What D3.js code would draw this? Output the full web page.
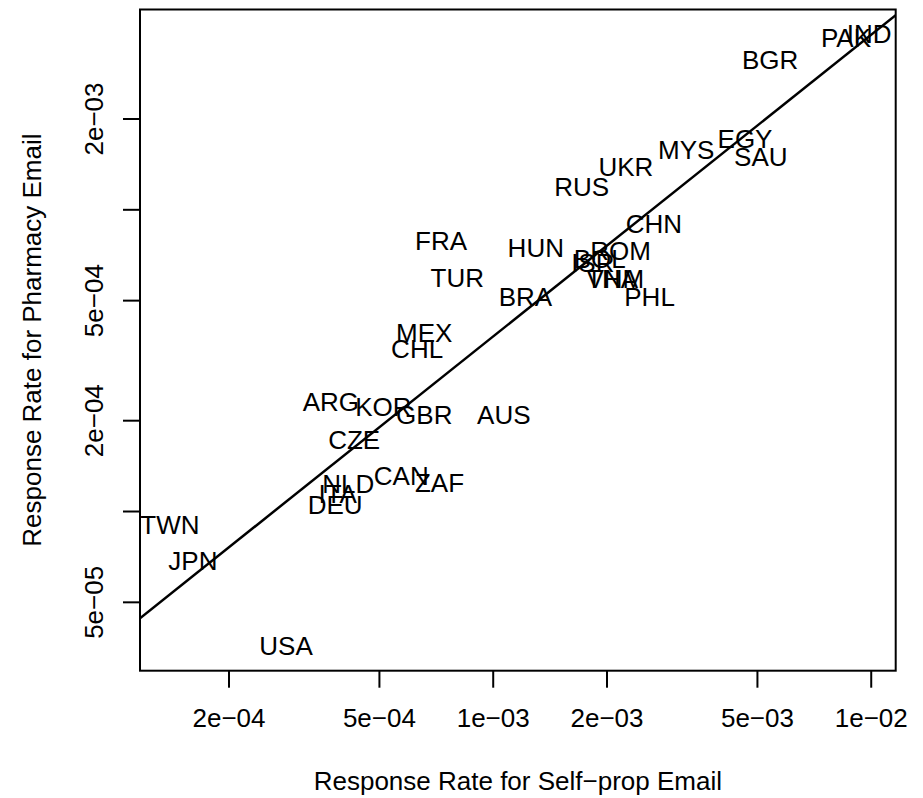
<!DOCTYPE html>
<html><head><meta charset="utf-8">
<script src="https://cdn.jsdelivr.net/npm/d3@7"></script>
<style>
body{margin:0;background:#fff}
text{font-family:"Liberation Sans",Arial,Helvetica,sans-serif;fill:#000}
</style>
</head><body>
<svg id="c" width="923" height="798"></svg>
<script>
// ---- data ----
const countries = ["USA","TWN","JPN","ARG","KOR","GBR","CZE","CAN","ZAF","NLD","ITA","DEU",
  "MEX","CHL","FRA","TUR","BRA","AUS","HUN","ISR","BOL","ROM","VNM","THA","PHL","CHN",
  "RUS","UKR","MYS","EGY","SAU","BGR","PAK","IND"];
const selfPropRate = [2.84e-4,1.40e-4,1.61e-4,3.73e-4,5.14e-4,6.59e-4,4.30e-4,5.73e-4,7.23e-4,4.15e-4,3.89e-4,3.83e-4,
  6.59e-4,6.31e-4,7.30e-4,8.06e-4,1.22e-3,1.07e-3,1.30e-3,1.84e-3,1.92e-3,2.18e-3,2.11e-3,2.07e-3,2.60e-3,2.67e-3,
  1.72e-3,2.25e-3,3.25e-3,4.65e-3,5.12e-3,5.42e-3,8.60e-3,9.91e-3];
const pharmacyRate = [3.57e-5,9.04e-5,6.84e-5,2.30e-4,2.22e-4,2.08e-4,1.72e-4,1.31e-4,1.24e-4,1.23e-4,1.14e-4,1.05e-4,
  3.91e-4,3.45e-4,7.86e-4,5.94e-4,5.15e-4,2.09e-4,7.49e-4,6.66e-4,6.88e-4,7.30e-4,5.90e-4,5.90e-4,5.13e-4,8.95e-4,
  1.19e-3,1.39e-3,1.58e-3,1.71e-3,1.50e-3,3.14e-3,3.71e-3,3.81e-3];
const xTicks = [2e-4,5e-4,1e-3,2e-3,5e-3,1e-2];
const xTickLabels = ["2e\u221204","5e\u221204","1e\u221203","2e\u221203","5e\u221203","1e\u221202"];
const yTicks = [5e-5,1e-4,2e-4,5e-4,1e-3,2e-3];
const yTickLabels = ["5e\u221205","","2e\u221204","5e\u221204","","2e\u221203"];
const fitIntercept = -0.4225;   // log10 scale fit line
const fitSlope = 1.0;
const xDomain = [1.1666e-4, 1.1643e-2];
const yDomain = [2.956e-5, 4.595e-3];
const xTitle = "Response Rate for Self\u2212prop Email";
const yTitle = "Response Rate for Pharmacy Email";

// ---- layout ----
const W = 923, H = 798;
const L = 140, R = 895.7, T = 9.5, B = 670.7;
const FS = 26;
const svg = d3.select("#c");

const x = d3.scaleLog().domain(xDomain).range([L, R]);
const y = d3.scaleLog().domain(yDomain).range([B, T]);

// clip
svg.append("defs").append("clipPath").attr("id","clip")
  .append("rect").attr("x",L).attr("y",T).attr("width",R-L).attr("height",B-T);

// labels
svg.append("g").selectAll("text").data(countries).join("text")
  .attr("x",(d,i)=>x(selfPropRate[i]))
  .attr("y",(d,i)=>y(pharmacyRate[i]))
  .attr("dy","0.36em")
  .attr("text-anchor","middle")
  .style("font-size",FS+"px")
  .text(d=>d);

// fit line
const lineData = xDomain.map(v => [v, Math.pow(10, fitIntercept + fitSlope*Math.log10(v))]);
svg.append("path")
  .attr("clip-path","url(#clip)")
  .attr("d", d3.line().x(d=>x(d[0])).y(d=>y(d[1]))(lineData))
  .attr("fill","none").attr("stroke","#000").attr("stroke-width",2.5);

// box
svg.append("rect").attr("x",L).attr("y",T).attr("width",R-L).attr("height",B-T)
  .attr("fill","none").attr("stroke","#000").attr("stroke-width",2);

// x axis
const gx = svg.append("g").attr("transform",`translate(0,${B})`)
  .call(d3.axisBottom(x).tickValues(xTicks).tickFormat((d,i)=>xTickLabels[i]).tickSizeOuter(0).tickSize(17));
gx.select(".domain").remove();
gx.selectAll(".tick line").attr("stroke","#000").attr("stroke-width",2);
gx.selectAll(".tick text").attr("y",56.6).attr("dy",0)
  .style("font-size",FS+"px").attr("font-family",null);

// y axis
const gy = svg.append("g").attr("transform",`translate(${L},0)`)
  .call(d3.axisLeft(y).tickValues(yTicks).tickFormat((d,i)=>yTickLabels[i]).tickSizeOuter(0).tickSize(17));
gy.select(".domain").remove();
gy.selectAll(".tick line").attr("stroke","#000").attr("stroke-width",2);
gy.selectAll(".tick text").attr("x",null).attr("dy",null)
  .attr("transform","translate(-37,0) rotate(-90)")
  .attr("text-anchor","middle")
  .style("font-size",FS+"px");
svg.selectAll("g").attr("font-family",null).attr("font-size",null);

// titles
svg.append("text").attr("x",(L+R)/2).attr("y",790).attr("text-anchor","middle")
  .style("font-size",FS+"px").text(xTitle);
svg.append("text").attr("transform",`translate(41,${(T+B)/2}) rotate(-90)`)
  .attr("text-anchor","middle").style("font-size",FS+"px").text(yTitle);
</script>
</body></html>
